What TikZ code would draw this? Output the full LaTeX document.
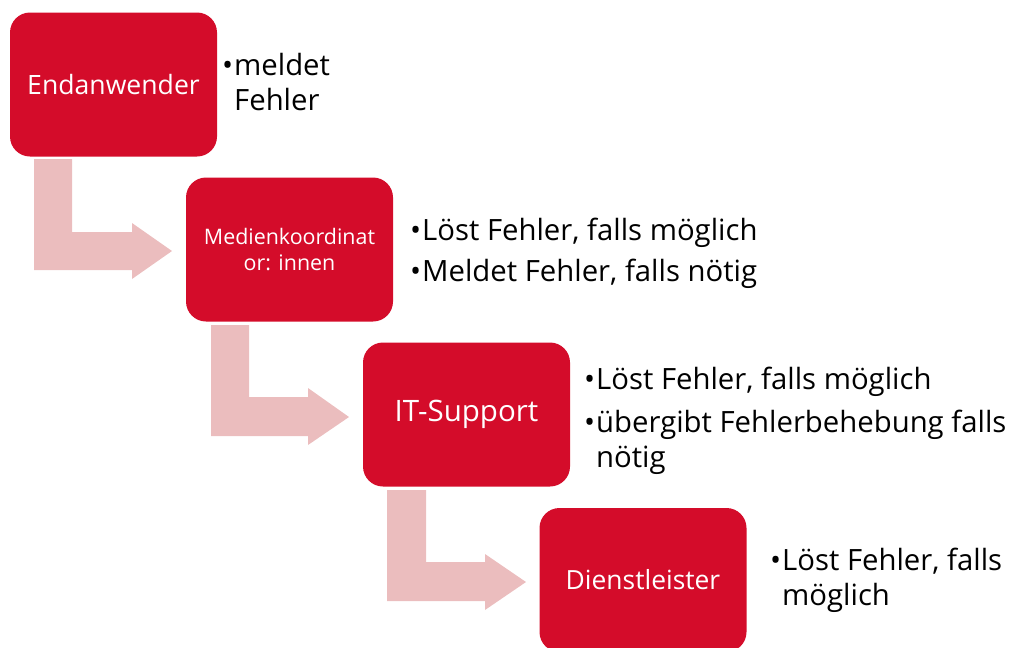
\documentclass[tikz,border=0pt]{standalone}
\usepackage{fontspec}
\setmainfont{Open Sans}
\definecolor{boxred}{HTML}{D40C2A}
\definecolor{arrpink}{HTML}{EBBDBE}
\begin{document}
\begin{tikzpicture}[x=1pt,y=-1pt,
  stagebox/.style={fill=boxred, rounded corners=20pt, minimum width=207pt, minimum height=144pt, inner sep=0pt, text=white, align=center},
  bentarrow/.style={fill=arrpink, draw=none},
  itemtext/.style={anchor=base west, inner sep=0pt, align=left, font=\fontsize{29.3}{35}\selectfont, text=black}]
\useasboundingbox (0,0) rectangle (1013,648);
% arrows
\fill[bentarrow] (34,159) -- (72,159) -- (72,232) -- (132,232) -- (132,223) -- (172,251) -- (132,279) -- (132,270) -- (34,270) -- cycle;
\fill[bentarrow] (211,325) -- (249,325) -- (249,397) -- (308,397) -- (308,388) -- (349,417) -- (308,445) -- (308,436) -- (211,436) -- cycle;
\fill[bentarrow] (387,490) -- (426,490) -- (426,562) -- (485,562) -- (485,554) -- (526,582) -- (485,610) -- (485,601) -- (387,601) -- cycle;
% boxes
\node[stagebox, font=\fontsize{26.6}{30}\selectfont] (b1) at (113.5,84.5) {Endanwender};
\node[stagebox, font=\fontsize{21.4}{26}\selectfont] (b2) at (289.5,249.5) {Medienkoordinat\\or: innen};
\node[stagebox, font=\fontsize{29.5}{34}\selectfont] (b3) at (466.5,414.5) {IT-Support};
\node[stagebox, font=\fontsize{26.4}{30}\selectfont] (b4) at (643,580) {Dienstleister};
% texts
\newcommand{\bul}{\makebox[12pt][l]{•}}
\newcommand{\ind}{\hspace*{12pt}}
\node[itemtext] (t1) at (222,110) {\bul meldet\\\ind Fehler};
\node[itemtext] (t2a) at (410,240) {\bul Löst Fehler, falls möglich};
\node[itemtext] (t2b) at (410,281) {\bul Meldet Fehler, falls nötig};
\node[itemtext] (t3a) at (584,389) {\bul Löst Fehler, falls möglich};
\node[itemtext] (t3b) at (584,467) {\bul übergibt Fehlerbehebung falls\\\ind nötig};
\node[itemtext] (t4) at (770,605) {\bul Löst Fehler, falls\\\ind möglich};
\end{tikzpicture}
\end{document}
